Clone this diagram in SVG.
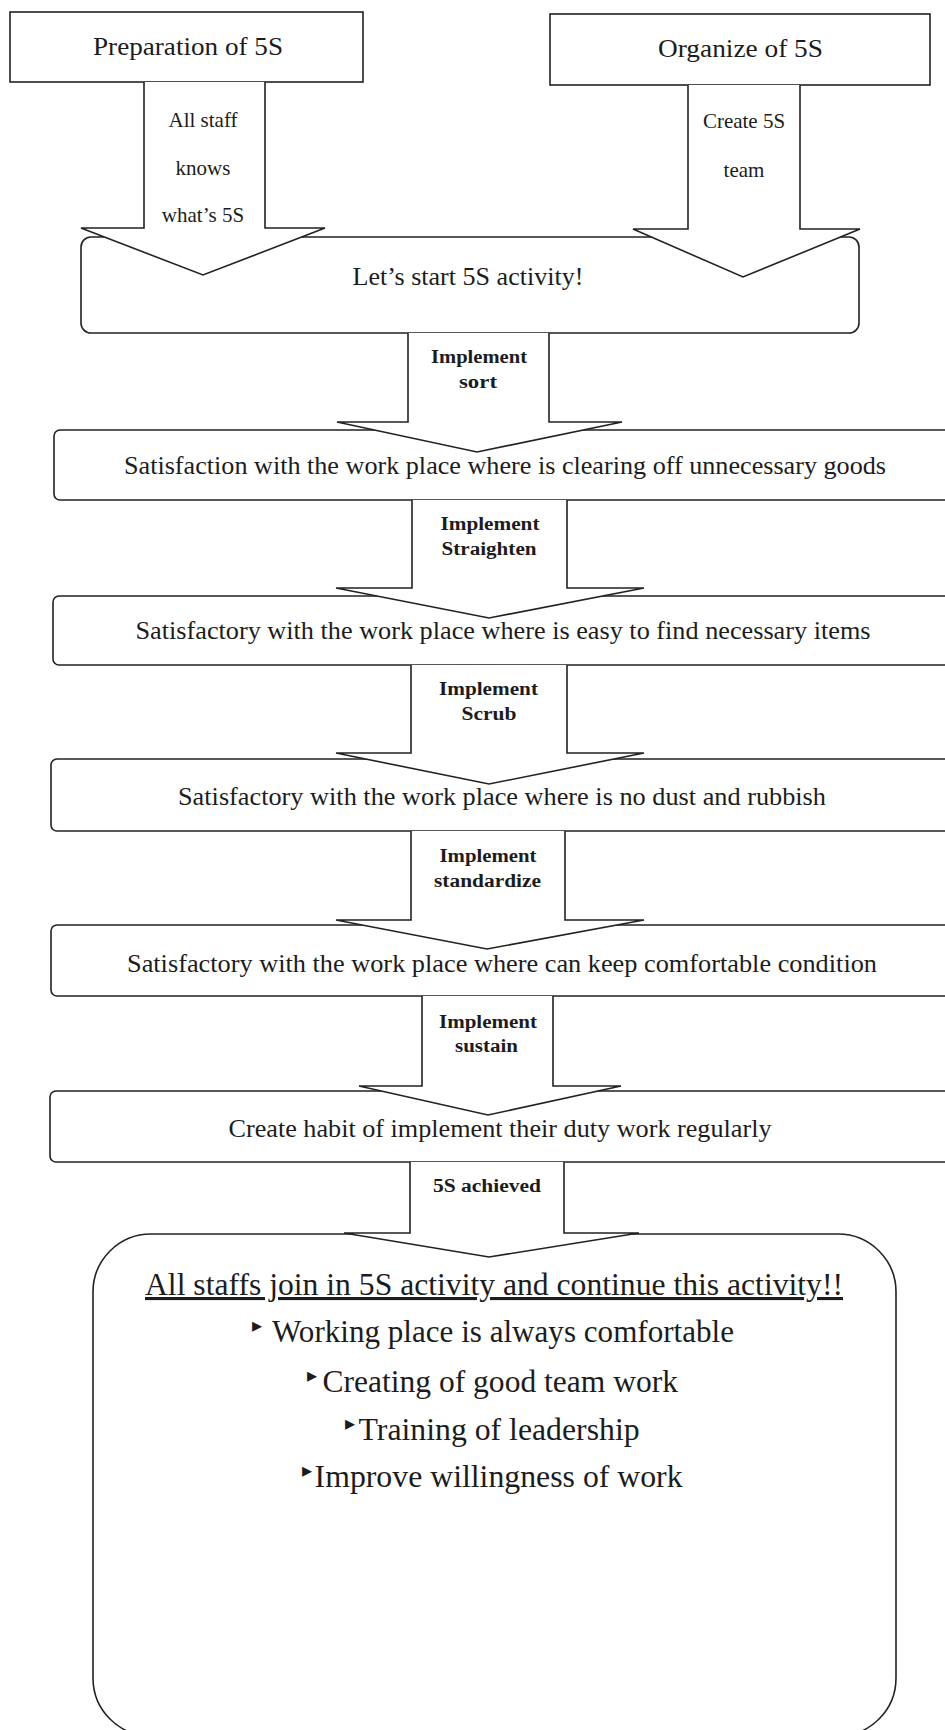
<svg xmlns="http://www.w3.org/2000/svg" width="945" height="1730" viewBox="0 0 945 1730">
<style>
.box{fill:#fff;stroke:#222;stroke-width:1.6}
.arr{fill:#fff;stroke:#222;stroke-width:1.6;stroke-linejoin:miter}
.t{font-family:"Liberation Serif","Times New Roman",serif;fill:#1c1c1c;text-anchor:middle}
.big{font-size:26px}
.sm{font-size:21px}
.lbl{font-family:"Liberation Serif","Times New Roman",serif;fill:#1c1c1c;text-anchor:middle;font-size:18px;font-weight:bold}
.fin{font-family:"Liberation Serif","Times New Roman",serif;fill:#1c1c1c;font-size:31px}
.bul{font-family:"DejaVu Sans",sans-serif;fill:#1c1c1c;font-size:20px}
</style>
<rect width="945" height="1730" fill="#fff"/>
<g id="prep">
<rect class="box" x="10" y="12" width="353" height="70"/>
<text class="t big" x="188" y="55" textLength="190" lengthAdjust="spacingAndGlyphs">Preparation of 5S</text>
</g>
<g id="organize">
<rect class="box" x="550" y="14" width="380" height="71"/>
<text class="t big" x="740.5" y="57" textLength="165" lengthAdjust="spacingAndGlyphs">Organize of 5S</text>
</g>
<g id="start">
<rect class="box" x="81" y="237" width="778" height="96" rx="10"/>
<text class="t big" x="468" y="285" textLength="231" lengthAdjust="spacingAndGlyphs">Let’s start 5S activity!</text>
</g>
<g id="sort-result">
<rect class="box" x="54" y="430" width="910" height="70" rx="6"/>
<text class="t big" x="505" y="474" textLength="762" lengthAdjust="spacingAndGlyphs">Satisfaction with the work place where is clearing off unnecessary goods</text>
</g>
<g id="straighten-result">
<rect class="box" x="53" y="596" width="910" height="69" rx="6"/>
<text class="t big" x="503" y="639" textLength="735" lengthAdjust="spacingAndGlyphs">Satisfactory with the work place where is easy to find necessary items</text>
</g>
<g id="scrub-result">
<rect class="box" x="51" y="759" width="910" height="72" rx="6"/>
<text class="t big" x="502" y="805" textLength="648" lengthAdjust="spacingAndGlyphs">Satisfactory with the work place where is no dust and rubbish</text>
</g>
<g id="standardize-result">
<rect class="box" x="51" y="925" width="910" height="71" rx="6"/>
<text class="t big" x="502" y="972" textLength="750" lengthAdjust="spacingAndGlyphs">Satisfactory with the work place where can keep comfortable condition</text>
</g>
<g id="sustain-result">
<rect class="box" x="50" y="1091" width="910" height="71" rx="6"/>
<text class="t big" x="500" y="1137" textLength="543" lengthAdjust="spacingAndGlyphs">Create habit of implement their duty work regularly</text>
</g>
<g id="final">
<rect class="box" x="93" y="1234" width="803" height="502" rx="58"/>
<text class="fin" x="145" y="1295" textLength="698" lengthAdjust="spacingAndGlyphs" text-decoration="underline" font-size="30">All staffs join in 5S activity and continue this activity!!</text>
<text class="bul" x="252" y="1332">▸</text>
<text class="fin" x="272" y="1342" textLength="462" lengthAdjust="spacingAndGlyphs">Working place is always comfortable</text>
<text class="bul" x="307" y="1382">▸</text>
<text class="fin" x="322.5" y="1392" textLength="355.5" lengthAdjust="spacingAndGlyphs">Creating of good team work</text>
<text class="bul" x="345" y="1430">▸</text>
<text class="fin" x="358.6" y="1440" textLength="281" lengthAdjust="spacingAndGlyphs">Training of leadership</text>
<text class="bul" x="302" y="1477">▸</text>
<text class="fin" x="314.6" y="1487" textLength="368" lengthAdjust="spacingAndGlyphs">Improve willingness of work</text>
</g>
<g id="connectors">
<path class="arr" d="M144 82 V228 H81 L203 275 L325 228 H265 V82"/>
<path class="arr" d="M688 85 V229 H633 L743 277 L860 229 H800 V85"/>
<path class="arr" d="M408 333 V422 H337 L477 452 L622 422 H549 V333"/>
<path class="arr" d="M412 500 V588 H336 L489 618 L644 588 H567 V500"/>
<path class="arr" d="M411 665 V753 H336 L489 784 L644 753 H567 V665"/>
<path class="arr" d="M411 831 V920 H336 L487 949 L644 920 H565 V831"/>
<path class="arr" d="M422 996 V1086 H359 L488 1115 L621 1086 H553 V996"/>
<path class="arr" d="M410 1162 V1233 H344 L489 1257 L639 1233 H564 V1162"/>
<text class="t sm" x="203" y="127">All staff</text>
<text class="t sm" x="203" y="175">knows</text>
<text class="t sm" x="203" y="222">what’s 5S</text>
<text class="t sm" x="744" y="128">Create 5S</text>
<text class="t sm" x="744" y="177">team</text>
<text class="lbl" x="479" y="363" textLength="96" lengthAdjust="spacingAndGlyphs">Implement</text>
<text class="lbl" x="478" y="388" textLength="38" lengthAdjust="spacingAndGlyphs">sort</text>
<text class="lbl" x="490" y="530" textLength="99" lengthAdjust="spacingAndGlyphs">Implement</text>
<text class="lbl" x="489" y="555" textLength="95" lengthAdjust="spacingAndGlyphs">Straighten</text>
<text class="lbl" x="488.5" y="695" textLength="99" lengthAdjust="spacingAndGlyphs">Implement</text>
<text class="lbl" x="489" y="720" textLength="55" lengthAdjust="spacingAndGlyphs">Scrub</text>
<text class="lbl" x="488" y="862" textLength="97" lengthAdjust="spacingAndGlyphs">Implement</text>
<text class="lbl" x="487.5" y="887" textLength="107" lengthAdjust="spacingAndGlyphs">standardize</text>
<text class="lbl" x="488" y="1028" textLength="98" lengthAdjust="spacingAndGlyphs">Implement</text>
<text class="lbl" x="486.5" y="1052" textLength="63" lengthAdjust="spacingAndGlyphs">sustain</text>
<text class="lbl" x="487" y="1192" textLength="108" lengthAdjust="spacingAndGlyphs">5S achieved</text>
</g>
</svg>
